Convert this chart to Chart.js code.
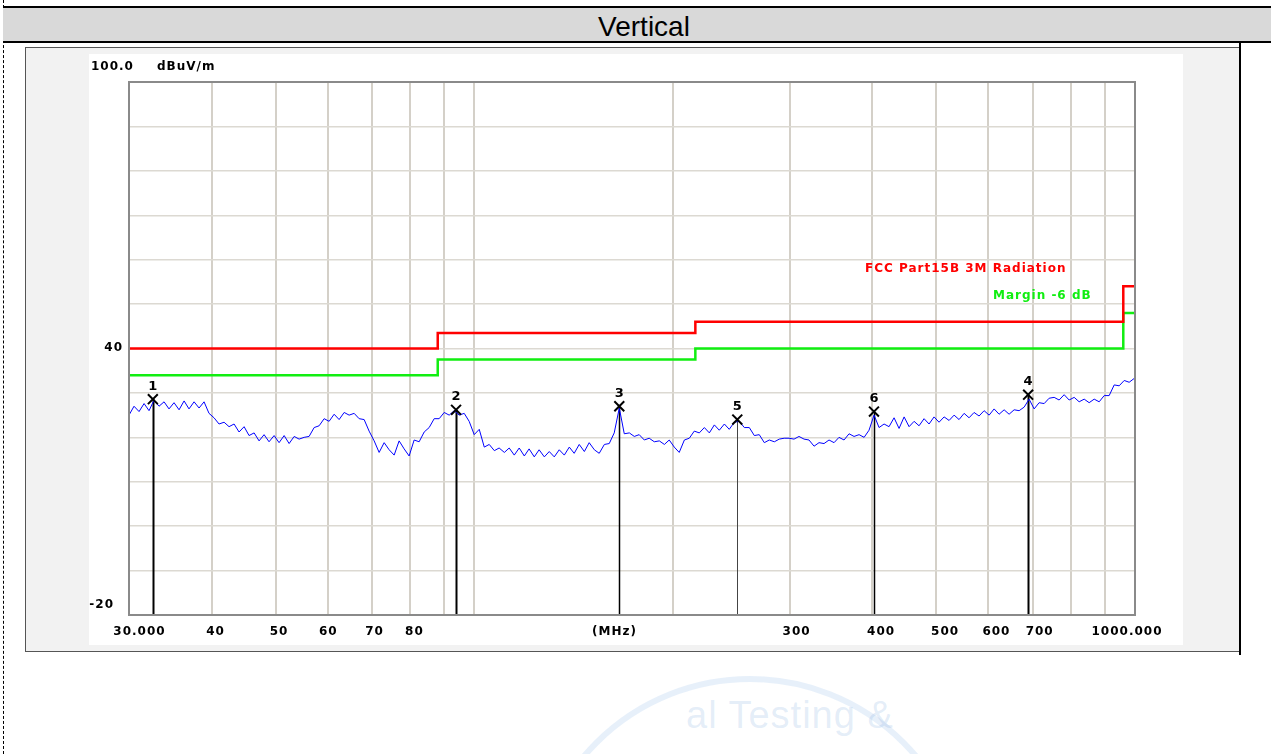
<!DOCTYPE html>
<html lang="en">
<head>
  <meta charset="UTF-8" />
  <title>Radiated Emission - Vertical</title>
  <script src="https://cdn.jsdelivr.net/npm/chart.js"></script>
  <style>
    * { margin: 0; padding: 0; box-sizing: border-box; }
    body {
      width: 1271px;
      height: 754px;
      overflow: hidden;
      background: #fff;
      position: relative;
      font-family: 'Liberation Sans', Arial, sans-serif;
    }
    /* dashed page edge */
    .page-edge {
      position: absolute;
      left: 3px; top: 0; bottom: 0;
      border-left: 1px dashed #000;
    }
    /* table header row */
    .head {
      position: absolute;
      left: 3px; top: 6px;
      width: 1268px; height: 37px;
      background: #d9d9d9;
      border-top: 2px solid #000;
      border-bottom: 2px solid #000;
      padding-left: 14px;
      text-align: center;
      font-size: 28px;
      line-height: 37px;
      color: #000;
    }
    .cell-right {
      position: absolute;
      left: 1239px; top: 43px;
      width: 2px; height: 612px;
      background: #000;
    }
    /* grey frame round the plot picture */
    .frame {
      position: absolute;
      left: 25px; top: 47px;
      width: 1215px; height: 605px;
      background: #f2f2f2;
      border-top: 1px solid #555;
      border-left: 1px solid #555;
      border-bottom: 1px solid #555;
    }
    #emc {
      position: absolute;
      left: 89px; top: 54px;
      background: #fff;
    }
    /* faint stamp under the table */
    .stamp-ring {
      position: absolute;
      left: 530px; top: 676px;
      width: 440px; height: 440px;
      border-radius: 50%;
      border: 6px solid rgba(120, 170, 225, 0.18);
    }
    .stamp-text {
      position: absolute;
      left: 686px; top: 694px;
      font-size: 38px;
      color: rgba(120, 165, 220, 0.2);
      letter-spacing: 1px;
    }
  </style>
</head>
<body>
  <div class="page-edge"></div>
  <div class="head">Vertical</div>
  <div class="frame"></div>
  <div class="cell-right"></div>
  <canvas id="emc" width="1094" height="591"></canvas>
  <div class="stamp-ring"></div>
  <div class="stamp-text">al Testing &amp;</div>

  <script>
    // ---- measured trace (MHz / dBuV/m) ----
    const traceFreqs = [
      30.00, 30.53, 31.07, 31.62, 32.17, 32.74, 33.31, 33.90, 34.49, 35.10,
      35.72, 36.35, 36.98, 37.64, 38.30, 38.97, 39.65, 40.35, 41.06, 41.79,
      42.52, 43.27, 44.03, 44.81, 45.59, 46.40, 47.21, 48.04, 48.88, 49.75,
      50.62, 51.52, 52.42, 53.35, 54.28, 55.24, 56.20, 57.20, 58.20, 59.23,
      60.26, 61.33, 62.40, 63.51, 64.62, 65.76, 66.91, 68.09, 69.28, 70.51,
      71.74, 73.01, 74.29, 75.60, 76.92, 78.28, 79.65, 81.06, 82.48, 83.94,
      85.41, 86.92, 88.44, 90.01, 91.58, 93.20, 94.83, 96.51, 98.19, 99.93,
      101.7, 103.5, 105.3, 107.2, 109.0, 111.0, 112.9, 114.9, 116.9, 119.0,
      121.0, 123.2, 125.3, 127.6, 129.8, 132.1, 134.4, 136.8, 139.2, 141.6,
      144.1, 146.7, 149.2, 151.9, 154.5, 157.3, 160.0, 162.8, 165.7, 168.6,
      171.6, 174.6, 177.6, 180.8, 183.9, 187.2, 190.5, 193.9, 197.2, 200.7,
      204.2, 207.9, 211.5, 215.2, 219.0, 222.9, 226.8, 230.8, 234.8, 239.0,
      243.1, 247.4, 251.8, 256.2, 260.7, 265.3, 269.9, 274.7, 279.5, 284.5,
      289.4, 294.4, 299.4, 304.7, 310.0, 315.5, 321.0, 326.7, 332.4, 338.3,
      344.2, 350.3, 356.4, 362.7, 369.1, 375.6, 382.2, 389.0, 395.7, 402.7,
      409.8, 417.0, 424.3, 431.8, 439.4, 447.2, 455.0, 463.0, 471.1, 479.4,
      487.8, 496.4, 505.1, 514.1, 523.1, 532.3, 541.6, 551.2, 560.8, 570.7,
      580.7, 591.0, 601.4, 612.0, 622.7, 633.7, 644.8, 656.2, 667.7, 679.5,
      691.4, 703.6, 715.9, 728.6, 741.3, 754.4, 767.6, 781.2, 794.9, 809.0,
      823.1, 837.7, 852.3, 867.4, 882.6, 898.2, 913.9, 930.1, 946.3, 963.1,
      979.9, 1000
    ];
    const traceLevels = [
      25.0, 27.0, 25.8, 27.6, 26.0, 28.4, 27.0, 28.0, 26.4, 27.8,
      26.2, 28.2, 26.4, 28.0, 26.6, 28.0, 25.4, 24.4, 23.0, 23.4,
      22.4, 23.0, 21.2, 22.4, 20.4, 21.0, 19.2, 20.6, 19.0, 20.4,
      18.8, 20.4, 18.6, 20.2, 19.6, 20.0, 20.2, 22.2, 22.6, 24.2,
      23.6, 25.2, 24.0, 25.6, 25.0, 25.4, 24.2, 24.0, 21.4, 19.2,
      16.6, 18.8, 17.2, 16.0, 19.2, 17.4, 15.8, 19.4, 19.0, 21.2,
      22.2, 24.2, 24.2, 25.6, 25.0, 26.0, 25.0, 25.4, 23.6, 20.6,
      21.8, 17.8, 18.4, 17.0, 17.6, 16.6, 17.6, 16.0, 17.6, 15.8,
      17.4, 15.6, 17.2, 15.6, 16.8, 15.6, 17.2, 16.0, 17.8, 16.4,
      18.4, 16.8, 18.8, 17.2, 16.4, 18.4, 18.6, 21.0, 26.6, 20.8,
      21.0, 20.2, 20.6, 19.4, 19.8, 19.0, 19.2, 18.4, 19.4, 17.8,
      16.6, 19.4, 19.8, 21.4, 21.0, 22.2, 21.0, 22.8, 21.6, 23.0,
      21.8, 23.4, 23.6, 22.2, 22.2, 20.4, 20.6, 18.8, 19.4, 19.0,
      19.6, 19.8, 19.8, 19.6, 20.2, 19.6, 19.4, 18.0, 18.8, 18.6,
      19.4, 18.8, 20.0, 19.4, 20.8, 20.2, 20.6, 20.0, 21.6, 25.0,
      22.2, 23.0, 22.4, 24.4, 22.0, 24.6, 22.4, 23.6, 22.6, 24.2,
      23.0, 24.6, 23.4, 24.6, 23.8, 25.0, 24.0, 25.4, 24.4, 25.6,
      24.8, 26.0, 25.0, 26.4, 25.2, 26.2, 25.2, 26.2, 26.0, 26.8,
      28.6, 26.4, 27.8, 27.6, 28.8, 29.0, 28.4, 29.6, 28.4, 29.0,
      28.0, 28.6, 27.8, 28.6, 28.0, 29.4, 29.4, 31.8, 31.6, 32.8,
      32.4, 33.4
    ];

    // ---- FCC Part15B 3m limit and -6 dB margin (step edges) ----
    const limitFreqs  = [30, 88, 216, 960, 1000];
    const limitLevels = [40, 43.5, 46, 54, 54];
    const marginLevels = [34, 37.5, 40, 48, 48];

    // ---- marker peaks ----
    const markerNums   = ['1', '2', '3', '4', '5', '6'];
    const markerFreqs  = [32.6, 93.8, 165.7, 689, 250, 402.6];
    const markerLevels = [28.6, 26.2, 27.0, 29.6, 24.0, 25.8];

    // ---- axes ----
    const xGridVals  = [30, 40, 50, 60, 70, 80, 90, 100, 200, 300, 400, 500, 600, 700, 800, 900, 1000];
    const xTickVals  = [30, 40, 50, 60, 70, 80, 300, 400, 500, 600, 700, 1000];
    const xTickText  = ['30.000', '40', '50', '60', '70', '80', '300', '400', '500', '600', '700', '1000.000'];
    const yTickVals  = [40, -20];
    const yTickText  = ['40', '-20'];

    // label nudges (px) so the text sits where the analyser software put it
    const xTickNudge = [10.5, 4, 3.5, 0.5, 2.5, 4, 7, 9, 9, 8, 7, -8];
    const yTickRight = [34, 25];
    const yTickNudge = [-1, -10];
    const markerStem = [2, 2, 1.5, 2, 1, 1.5];
    const LABEL_FONT = 'bold 12px "DejaVu Sans", Verdana, sans-serif';
    const MARK_FONT = 'bold 13px "DejaVu Sans", Verdana, sans-serif';

    const pts = (xs, ys) => xs.map((v, i) => ({ x: v, y: ys[i] }));

    function setFont(ctx, font, spacing) {
      ctx.font = font;
      if ('letterSpacing' in ctx) ctx.letterSpacing = spacing;
    }

    const emcDecor = {
      id: 'emcDecor',
      beforeDatasetsDraw(chart) {
        const { ctx, chartArea: a, scales: { x, y } } = chart;
        ctx.save();
        // marker stems down to the floor of the plot
        markerFreqs.forEach((f, i) => {
          const px = Math.round(x.getPixelForValue(f)) + 0.5;
          const py = y.getPixelForValue(markerLevels[i]);
          ctx.strokeStyle = markerStem[i] < 1.5 ? '#444' : '#000';
          ctx.lineWidth = markerStem[i];
          ctx.beginPath();
          ctx.moveTo(px, py);
          ctx.lineTo(px, a.bottom);
          ctx.stroke();
        });
        ctx.restore();
      },
      afterDatasetsDraw(chart) {
        const { ctx, chartArea: a, scales: { x, y } } = chart;
        ctx.save();
        // plot frame
        ctx.strokeStyle = '#8a8a8a';
        ctx.lineWidth = 2;
        ctx.strokeRect(a.left, a.top, a.right - a.left, a.bottom - a.top);

        setFont(ctx, LABEL_FONT, '1px');
        ctx.fillStyle = '#000';
        ctx.textBaseline = 'middle';

        // unit line above the plot
        ctx.textAlign = 'left';
        ctx.fillText('100.0', 2, 13);
        ctx.fillText('dBuV/m', 68, 13);

        // y labels
        ctx.textAlign = 'right';
        yTickVals.forEach((v, i) => {
          ctx.fillText(yTickText[i], yTickRight[i], y.getPixelForValue(v) + yTickNudge[i]);
        });

        // x labels
        ctx.textAlign = 'center';
        const ly = a.bottom + 17;
        xTickVals.forEach((v, i) => {
          ctx.fillText(xTickText[i], x.getPixelForValue(v) + xTickNudge[i], ly);
        });
        ctx.fillText('(MHz)', x.getPixelForValue(163), ly);

        // limit captions
        ctx.textAlign = 'left';
        ctx.fillStyle = '#ff0000';
        ctx.fillText('FCC Part15B 3M Radiation', 776, 215);
        ctx.fillStyle = '#11ee11';
        ctx.fillText('Margin -6 dB', 904, 242);

        // marker numbers
        setFont(ctx, MARK_FONT, '0px');
        ctx.fillStyle = '#000';
        ctx.textAlign = 'center';
        markerFreqs.forEach((f, i) => {
          ctx.fillText(markerNums[i], x.getPixelForValue(f), y.getPixelForValue(markerLevels[i]) - 13);
        });
        ctx.restore();
      }
    };

    new Chart(document.getElementById('emc'), {
      type: 'line',
      data: {
        datasets: [
          {
            label: 'Markers',
            type: 'scatter',
            data: pts(markerFreqs, markerLevels),
            showLine: false,
            pointStyle: 'crossRot',
            pointRadius: 7,
            borderColor: '#000',
            borderWidth: 2
          },
          {
            label: 'FCC Part15B 3M Radiation',
            data: pts(limitFreqs, limitLevels),
            stepped: true,
            borderColor: '#ff0000',
            borderWidth: 2.5,
            pointRadius: 0
          },
          {
            label: 'Margin -6 dB',
            data: pts(limitFreqs, marginLevels),
            stepped: true,
            borderColor: '#11ee11',
            borderWidth: 2.5,
            pointRadius: 0
          },
          {
            label: 'Vertical',
            data: pts(traceFreqs, traceLevels),
            borderColor: '#0000ff',
            borderWidth: 1,
            pointRadius: 0,
            tension: 0
          }
        ]
      },
      options: {
        responsive: false,
        animation: false,
        devicePixelRatio: 1,
        layout: { padding: { left: 40, right: 48, top: 28, bottom: 30 } },
        plugins: {
          legend: { display: false },
          tooltip: { enabled: false }
        },
        scales: {
          x: {
            type: 'logarithmic',
            min: 30,
            max: 1000,
            afterBuildTicks: s => { s.ticks = xGridVals.map(v => ({ value: v })); },
            afterFit: s => { s.height = 0; },
            ticks: { display: false },
            grid: { color: '#d4d0c8', lineWidth: 2, drawTicks: false },
            border: { display: false }
          },
          y: {
            type: 'linear',
            min: -20,
            max: 100,
            afterFit: s => { s.width = 0; },
            ticks: { display: false, stepSize: 10 },
            grid: { color: '#dcd9d2', lineWidth: 1.5, drawTicks: false },
            border: { display: false }
          }
        }
      },
      plugins: [emcDecor]
    });
  </script>
</body>
</html>
